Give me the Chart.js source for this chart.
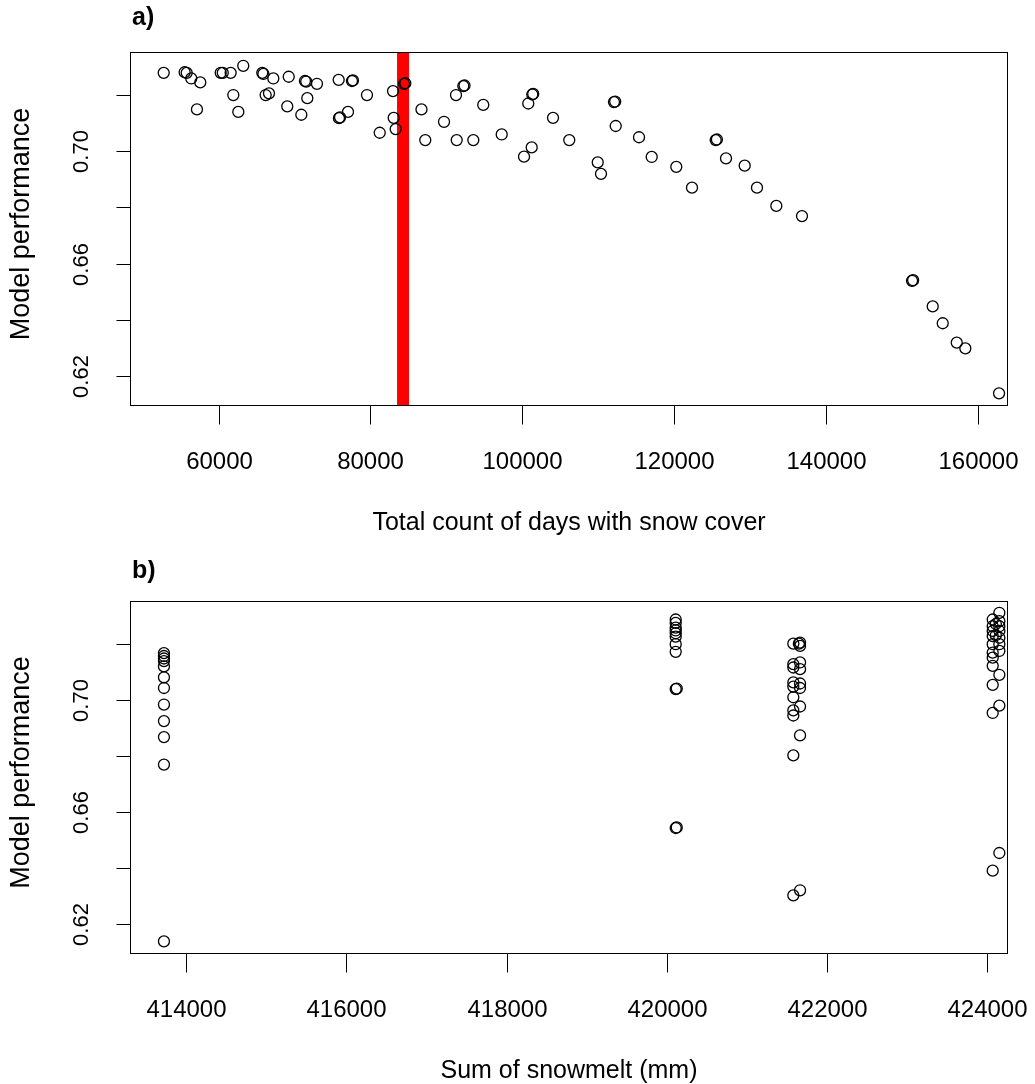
<!DOCTYPE html>
<html>
<head>
<meta charset="utf-8">
<script src="https://cdn.jsdelivr.net/npm/chart.js@4.4.1/dist/chart.umd.min.js"></script>
<style>
  html, body { margin: 0; padding: 0; background: #fff; }
  #wrap { position: relative; width: 1035px; height: 1084px; }
  canvas { position: absolute; left: 0; }
</style>
</head>
<body>
<div id="wrap">
  <canvas id="chartA" width="1035" height="560" style="top:0px"></canvas>
  <canvas id="chartB" width="1035" height="524" style="top:560px"></canvas>
</div>
<script>
// panel a: total count of days with snow cover vs model performance
const snowDays = [
  52770, 55530, 55800, 56400, 57590, 57150, 60280, 60550, 61590, 63250,
  61940, 62600, 65760, 65900, 67210, 66200, 66640, 69240, 69050, 71380,
  71550, 72960, 71690, 70900, 75820, 77570, 77700, 75860, 76000, 77050,
  79550, 82980, 84430, 84600, 83070, 83330, 81230, 86730, 87230, 89700,
  91280, 92240, 92400, 91370, 93560, 94870, 97300, 101330, 101450, 100800,
  101250, 100240, 104060, 106200, 112090, 112250, 112320, 109950, 110380, 115390,
  117060, 120300, 122370, 125490, 125650, 126850, 129310, 130930, 133480, 136860,
  151360, 151500, 154080, 155400, 157250, 158380, 162820
];
const perfA = [
  0.7278, 0.7280, 0.7278, 0.7258, 0.7244, 0.7148, 0.7278, 0.7278, 0.7278, 0.7303,
  0.7199, 0.7139, 0.7278, 0.7274, 0.7258, 0.7199, 0.7205, 0.7264, 0.7159, 0.7249,
  0.7247, 0.7239, 0.7188, 0.7129, 0.7253, 0.7249, 0.7251, 0.7117, 0.7120, 0.7139,
  0.7199, 0.7213, 0.7239, 0.7241, 0.7118, 0.7078, 0.7065, 0.7148, 0.7039, 0.7104,
  0.7199, 0.7231, 0.7233, 0.7039, 0.7039, 0.7164, 0.7059, 0.7201, 0.7203, 0.7169,
  0.7013, 0.6980, 0.7118, 0.7039, 0.7174, 0.7176, 0.7089, 0.6960, 0.6919, 0.7049,
  0.6979, 0.6944, 0.6870, 0.7039, 0.7041, 0.6974, 0.6948, 0.6870, 0.6805, 0.6769,
  0.6539, 0.6541, 0.6448, 0.6388, 0.6319, 0.6299, 0.6139
];
const thresholdDays = 84300;

// panel b: sum of snowmelt vs model performance
const snowmelt = [
  413721, 413721, 413721, 413721, 413721, 413721, 413721, 413721, 413721, 413721, 413721, 413721,
  420112, 420112, 420112, 420112, 420112, 420112, 420112, 420112, 420112, 420125, 420112, 420125,
  421581, 421581, 421581, 421581, 421581, 421581, 421581, 421581, 421581, 421581,
  421665, 421665, 421665, 421665, 421665, 421665, 421665, 421665, 421665, 421650,
  424071, 424071, 424071, 424071, 424071, 424071, 424071, 424071, 424071, 424071, 424071,
  424154, 424154, 424154, 424154, 424154, 424154, 424154, 424154, 424154, 424154,
  424110, 424110
];
const perfB = [
  0.7166, 0.7156, 0.7147, 0.7138, 0.7119, 0.7080, 0.7042, 0.6983, 0.6924, 0.6867, 0.6769, 0.6139,
  0.7286, 0.7274, 0.7257, 0.7247, 0.7237, 0.7225, 0.7198, 0.7171, 0.7038, 0.7040, 0.6543, 0.6545,
  0.7200, 0.7127, 0.7115, 0.7062, 0.7047, 0.7009, 0.6962, 0.6944, 0.6802, 0.6303,
  0.7204, 0.7192, 0.7133, 0.7109, 0.7058, 0.7042, 0.6976, 0.6873, 0.6321, 0.7200,
  0.7286, 0.7262, 0.7245, 0.7227, 0.7198, 0.7168, 0.7150, 0.7121, 0.7053, 0.6953, 0.6391,
  0.7310, 0.7280, 0.7262, 0.7245, 0.7221, 0.7198, 0.7174, 0.7089, 0.6979, 0.6454,
  0.7270, 0.7230
];

// axis ticks
const yTicks = [0.62, 0.64, 0.66, 0.68, 0.70, 0.72];
const yTickLabels = ['0.62', '', '0.66', '', '0.70', ''];
const xTicksA = [60000, 80000, 100000, 120000, 140000, 160000];
const xTicksB = [414000, 416000, 418000, 420000, 422000, 424000];

const FONT = '"Liberation Sans", Arial, Helvetica, sans-serif';

// R style box, ticks and labels, placed with the chart's own scales
const rAxes = {
  id: 'rAxes',
  afterDraw(chart, args, o) {
    const { ctx, chartArea: a, scales: { x, y } } = chart;
    ctx.save();
    ctx.strokeStyle = '#000';
    ctx.fillStyle = '#000';
    ctx.lineWidth = 1;
    const L = Math.round(a.left) + 0.5, R = Math.round(a.right) - 0.5;
    const T = Math.round(a.top) + 0.5, B = Math.round(a.bottom) - 0.5;
    ctx.strokeRect(L, T, R - L, B - T);

    ctx.textAlign = 'center';
    ctx.textBaseline = 'middle';
    ctx.font = o.xTickFont + ' ' + FONT;
    o.xTicks.forEach(v => {
      const px = Math.round(x.getPixelForValue(v)) + 0.5;
      ctx.beginPath();
      ctx.moveTo(px, B);
      ctx.lineTo(px, B + o.xTickLen);
      ctx.stroke();
      ctx.fillText(String(v), px, B + o.xLabelOff);
    });
    ctx.font = o.yTickFont + ' ' + FONT;
    o.yTicks.forEach((v, i) => {
      const py = Math.round(y.getPixelForValue(v)) + 0.5;
      ctx.beginPath();
      ctx.moveTo(L, py);
      ctx.lineTo(L - o.yTickLen, py);
      ctx.stroke();
      if (o.yLabels[i]) {
        ctx.save();
        ctx.translate(o.yLabelX, py);
        ctx.rotate(-Math.PI / 2);
        ctx.fillText(o.yLabels[i], 0, 0);
        ctx.restore();
      }
    });

    ctx.font = o.xTitleFont + ' ' + FONT;
    ctx.fillText(o.xTitle, (a.left + a.right) / 2, B + o.xTitleOff);
    ctx.font = o.yTitleFont + ' ' + FONT;
    ctx.save();
    ctx.translate(o.yTitleX, (a.top + a.bottom) / 2 - 5);
    ctx.rotate(-Math.PI / 2);
    ctx.fillText(o.yTitle, 0, 0);
    ctx.restore();

    ctx.font = 'bold 25px ' + FONT;
    ctx.textAlign = 'left';
    ctx.fillText(o.panel, a.left + 2, o.panelY);
    ctx.restore();
  }
};

function toPoints(xs, ys) {
  return xs.map((v, i) => ({ x: v, y: ys[i] }));
}

function makeOptions(xMin, xMax, pad, axes) {
  return {
    responsive: false,
    animation: false,
    devicePixelRatio: 1,
    layout: { padding: pad },
    scales: {
      x: { type: 'linear', min: xMin, max: xMax, display: false },
      y: { type: 'linear', min: 0.6094, max: 0.7352, display: false }
    },
    plugins: {
      legend: { display: false },
      tooltip: { enabled: false },
      rAxes: axes
    }
  };
}

const circle = {
  pointRadius: 5.5,
  pointBorderWidth: 1.3,
  pointBorderColor: '#000',
  pointBackgroundColor: 'rgba(0,0,0,0)',
  showLine: false
};

const axisStyle = {
  xTickFont: '24px', yTickFont: '22px', xTitleFont: '25px', yTitleFont: '27px',
  xTickLen: 19, yTickLen: 14, xLabelOff: 57, yLabelX: 82,
  xTitleOff: 118, yTitleX: 22
};

new Chart(document.getElementById('chartA'), {
  type: 'scatter',
  data: {
    datasets: [
      Object.assign({ label: 'runs', data: toPoints(snowDays, perfA) }, circle),
      {
        type: 'line',
        label: 'threshold',
        data: [{ x: thresholdDays, y: 0.6094 }, { x: thresholdDays, y: 0.7352 }],
        borderColor: '#ff0000',
        borderWidth: 12,
        pointRadius: 0,
        borderCapStyle: 'butt'
      }
    ]
  },
  options: makeOptions(48330, 164000, { left: 130, right: 27, top: 52, bottom: 154 },
    Object.assign({
      xTicks: xTicksA, yTicks: yTicks, yLabels: yTickLabels,
      xTitle: 'Total count of days with snow cover',
      yTitle: 'Model performance',
      panel: 'a)', panelY: 18
    }, axisStyle)),
  plugins: [rAxes]
});

new Chart(document.getElementById('chartB'), {
  type: 'scatter',
  data: {
    datasets: [
      Object.assign({ label: 'runs', data: toPoints(snowmelt, perfB) }, circle)
    ]
  },
  options: makeOptions(413297, 424262, { left: 130, right: 27, top: 41, bottom: 130 },
    Object.assign({
      xTicks: xTicksB, yTicks: yTicks, yLabels: yTickLabels,
      xTitle: 'Sum of snowmelt (mm)',
      yTitle: 'Model performance',
      panel: 'b)', panelY: 11
    }, axisStyle)),
  plugins: [rAxes]
});
</script>
</body>
</html>
